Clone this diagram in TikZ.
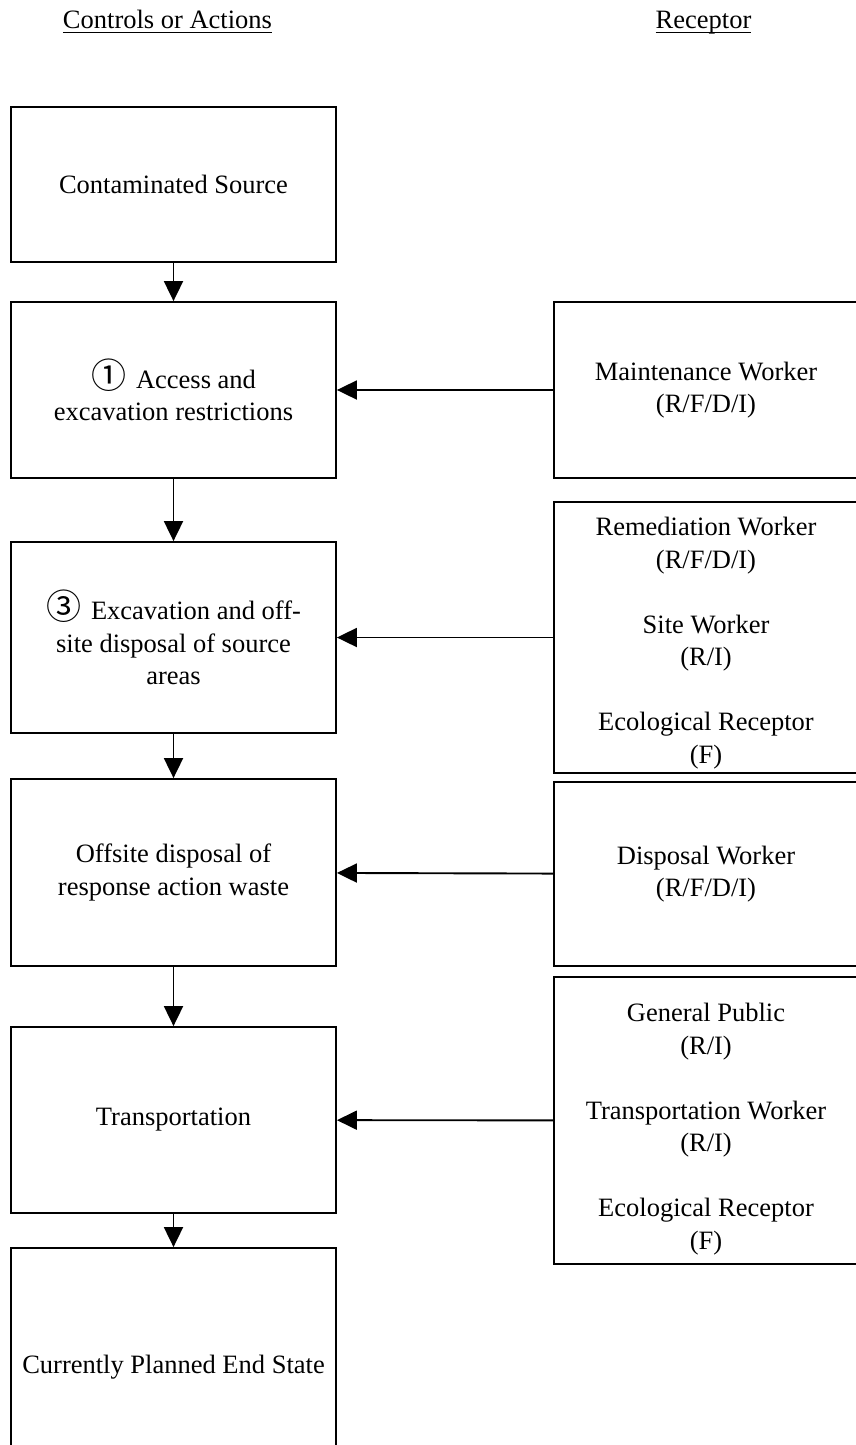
\documentclass[tikz,border=0pt]{standalone}
\usepackage{fontspec}
\setmainfont{Liberation Serif}
\newfontfamily\circfont{Noto Sans CJK SC}
\usetikzlibrary{arrows.meta}
% underline drawn as a rule a little below the baseline
\newcommand\uln[1]{\setbox0\hbox{#1}\rlap{\rule[-4.5pt]{\wd0}{1.6pt}}\box0}
% circled step number in front of an action
\newcommand\circnum[1]{{\circfont\fontsize{35}{35}\selectfont #1}\hspace{10pt}}
% taller first line to lower a text block a little
\newcommand\lift[1]{\rule{0pt}{#1}}

\begin{document}
\begin{tikzpicture}[x=1pt,y=-1pt,
  every node/.style={font=\fontsize{26.5}{32.5}\selectfont},
  box/.style={draw, line width=1.8pt, align=center, inner sep=0pt},
  lbox/.style={box, minimum width=325pt},
  rbox/.style={box, minimum width=304pt},
  link/.style={line width=1.9pt, -{Triangle[length=20pt,width=19pt]}},
  heading/.style={anchor=base, inner sep=0pt}]
\useasboundingbox (0,0) rectangle (856,1445);

% column headings
\node[heading] (hca) at (167.5,29) {\uln{Controls or Actions}};
\node[heading] (hrc) at (703.5,29) {\uln{Receptor}};

% controls or actions
\node[lbox, minimum height=155pt] (src) at (173.5,184.5) {Contaminated Source};
\node[lbox, minimum height=176pt] (acc) at (173.5,390)
  {\circnum{①}Access and\\excavation restrictions};
\node[lbox, minimum height=191pt] (exc) at (173.5,637.5)
  {\circnum{③}Excavation and off-\\site disposal of source\\areas};
\node[lbox, minimum height=187pt] (off) at (173.5,872.5)
  {Offsite disposal of\\response action waste};
\node[lbox, minimum height=186pt] (trn) at (173.5,1120) {Transportation};
\node[lbox, minimum height=238pt] (end) at (173.5,1367) {Currently Planned End State};

% receptors
\node[rbox, minimum height=176pt] (mw) at (706,390)
  {Maintenance Worker\\(R/F/D/I)};
\node[rbox, minimum height=271pt] (rw) at (706,637.5)
  {\lift{30pt}Remediation Worker\\(R/F/D/I)\\[32.5pt]Site Worker\\(R/I)\\[32.5pt]Ecological Receptor\\(F)};
\node[rbox, minimum height=184pt] (dw) at (706,874)
  {Disposal Worker\\(R/F/D/I)};
\node[rbox, minimum height=287pt] (gp) at (706,1120.5)
  {\lift{36pt}General Public\\(R/I)\\[32.5pt]Transportation Worker\\(R/I)\\[32.5pt]Ecological Receptor\\(F)};

% sequence of actions
\draw[link] (src) -- (acc);
\draw[link] (acc) -- (exc);
\draw[link] (exc) -- (off);
\draw[link] (off) -- (trn);
\draw[link] (trn) -- (end);

% receptors to the actions they apply to
\draw[link] (mw) -- (acc);
\draw[link] (rw) -- (exc);
\draw[link] (dw) -- (off);
\draw[link] (gp) -- (trn);
\end{tikzpicture}
\end{document}
